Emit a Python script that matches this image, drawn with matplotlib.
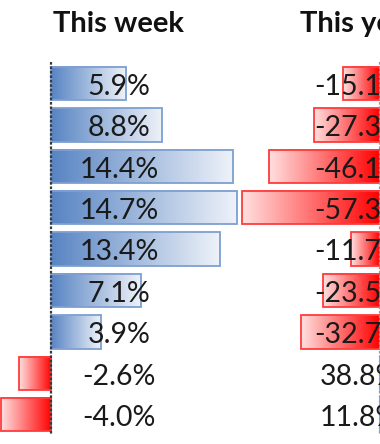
import numpy as np
import matplotlib
matplotlib.use("Agg")
import matplotlib.pyplot as plt
from matplotlib.colors import LinearSegmentedColormap
from matplotlib.transforms import blended_transform_factory

# ---- data ----
headers = ["This week", "This year"]
week = [5.9, 8.8, 14.4, 14.7, 13.4, 7.1, 3.9, -2.6, -4.0]
year = [-15.1, -27.3, -46.1, -57.3, -11.7, -23.5, -32.7, 38.8, 11.8]

W, H = 380, 444
fig = plt.figure(figsize=(W / 100, H / 100), dpi=100)
fig.patch.set_facecolor("white")

row0, pitch = 83.5, 41.4
ylim = ((H - row0) / pitch, -row0 / pitch)
bar_h = 0.81

pos_cmap = LinearSegmentedColormap.from_list("pos", ["#5884C3", "#EEF2F9"])
neg_cmap = LinearSegmentedColormap.from_list("neg", ["#FF0000", "#FFE0E0"])
grad = np.linspace(0, 1, 256)[None, :]

FONT = "Lato"


def column(left_px, width_px, xlim, vals, header, axis_color):
    ax = fig.add_axes([left_px / W, 0, width_px / W, 1])
    ax.set_xlim(*xlim)
    ax.set_ylim(*ylim)
    ax.axis("off")
    tr = blended_transform_factory(ax.transAxes, ax.transData)
    for i, v in enumerate(vals):
        y0, y1 = i + bar_h / 2, i - bar_h / 2
        if v >= 0:
            ax.imshow(grad, cmap=pos_cmap, extent=[0, v, y0, y1],
                      aspect="auto", interpolation="bilinear", zorder=1)
            ec = "#7E9FD0"
        else:
            ax.imshow(grad[:, ::-1], cmap=neg_cmap, extent=[v, 0, y0, y1],
                      aspect="auto", interpolation="bilinear", zorder=1)
            ec = "#FF3B3B"
        ax.barh(i, v, height=bar_h, fill=False, edgecolor=ec,
                linewidth=1.3, zorder=2)
        ax.text(0.5, i + 0.08, f"{v:.1f}%", transform=tr, ha="center",
                va="center", fontsize=20.5, family=FONT, color="#1A1A1A",
                zorder=4)
    ax.plot([0, 0], [-0.52, len(vals) - 0.51], color=axis_color,
            linestyle=(0, (1.2, 0.8)), linewidth=1.6, zorder=3)
    ax.text(0.5, -1.44, header, transform=tr, ha="center", va="center",
            fontsize=21, family=FONT, fontweight="bold", color="#111111")
    ax.set_ylim(*ylim)
    ax.set_xlim(*xlim)


column(0, 238, (-51.5 / 12.6, (238 - 51.5) / 12.6), week, headers[0], "#3A3A3A")
column(241, 236, (-138.5 / 2.4, (236 - 138.5) / 2.4), year, headers[1], "#9A9A9A")

fig.savefig("out.png", dpi=100, facecolor="white")
